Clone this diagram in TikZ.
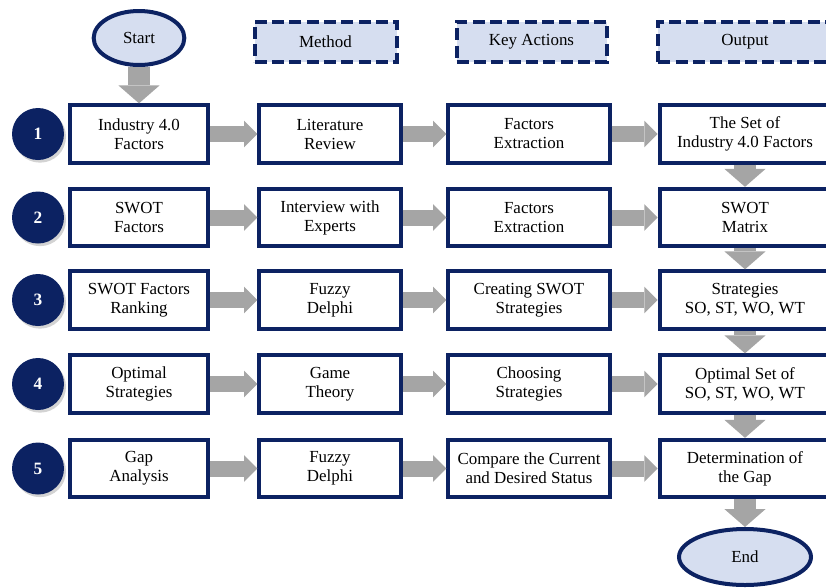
\documentclass[tikz,border=0pt]{standalone}
\usepackage{fontspec}
\setmainfont{Liberation Serif}
\usepackage{tikz}
\usetikzlibrary{shapes.geometric,arrows.meta,shadows}

\definecolor{navy}{RGB}{12,34,98}
\definecolor{paleblue}{RGB}{214,222,240}
\definecolor{flowgray}{RGB}{165,165,165}

\tikzset{
  txt/.style={font=\fontsize{12.7}{14.25}\selectfont, align=center},
  stepbox/.style={txt, draw=navy, line width=3pt, fill=white, minimum height=43pt},
  headbox/.style={txt, draw=navy, line width=3pt, fill=paleblue, dash pattern=on 9pt off 4pt, minimum height=30pt},
  terminal/.style={txt, ellipse, draw=navy, line width=3pt, fill=paleblue},
  num/.style={circle, fill=navy, text=white, minimum size=39pt, inner sep=0pt,
    font=\fontsize{13}{14}\selectfont\bfseries,
    drop shadow={shadow xshift=1.5pt, shadow yshift=-2pt, opacity=0.35}},
  hflow/.style={flowgray, line width=12pt, -{Triangle[length=10pt, width=20pt, line width=0pt]}},
  vflow/.style={flowgray, line width=16.5pt, -{Triangle[length=13.5pt, width=31pt, line width=0pt]}}
}

\begin{document}
\begin{tikzpicture}[x=0.75pt, y=-0.75pt]
        %--- Arguments ----
        \def \cA {139}   % input column
        \def \cB {330}   % method column
        \def \cC {529}   % key actions column
        \def \cD {745}   % output column
        \def \cN {38}    % step numbers
        \def \rA {134}
        \def \rB {217.5}
        \def \rC {300}
        \def \rD {384}
        \def \rE {468.5}
        \path[use as bounding box, clip] (0,0) rectangle (826,587);
        %--- Header ---
        \node [terminal, minimum width=68pt, minimum height=40.5pt] (start) at (\cA,38) {Start};
        \node [headbox, minimum width=106.5pt] (method) at (325.5,41.5) {Method};
        \node [headbox, minimum width=112.5pt] (actions) at (531.5,41.5) {Key Actions};
        \node [headbox, minimum width=130pt] (output) at (\cD,41.5) {Output};
        %--- Step numbers ---
        \node [num] (n1) at (\cN,\rA) {1};
        \node [num] (n2) at (\cN,\rB) {2};
        \node [num] (n3) at (\cN,\rC) {3};
        \node [num] (n4) at (\cN,\rD) {4};
        \node [num] (n5) at (\cN,\rE) {5};
        %--- Boxes ---
        % row 1
        \node [stepbox, minimum width=104pt] (f1) at (\cA,\rA) {Industry 4.0\\Factors};
        \node [stepbox, minimum width=106pt] (m1) at (\cB,\rA) {Literature\\Review};
        \node [stepbox, minimum width=121pt] (a1) at (\cC,\rA) {Factors\\Extraction};
        \node [stepbox, minimum width=128pt] (o1) at (\cD,\rA) {The Set of\\Industry 4.0 Factors};
        % row 2
        \node [stepbox, minimum width=104pt] (f2) at (\cA,\rB) {SWOT\\Factors};
        \node [stepbox, minimum width=106pt] (m2) at (\cB,\rB) {Interview with\\Experts};
        \node [stepbox, minimum width=121pt] (a2) at (\cC,\rB) {Factors\\Extraction};
        \node [stepbox, minimum width=128pt] (o2) at (\cD,\rB) {SWOT\\Matrix};
        % row 3
        \node [stepbox, minimum width=104pt] (f3) at (\cA,\rC) {SWOT Factors\\Ranking};
        \node [stepbox, minimum width=106pt] (m3) at (\cB,\rC) {Fuzzy\\Delphi};
        \node [stepbox, minimum width=121pt] (a3) at (\cC,\rC) {Creating SWOT\\Strategies};
        \node [stepbox, minimum width=128pt] (o3) at (\cD,\rC) {Strategies\\SO, ST, WO, WT};
        % row 4
        \node [stepbox, minimum width=104pt] (f4) at (\cA,\rD) {Optimal\\Strategies};
        \node [stepbox, minimum width=106pt] (m4) at (\cB,\rD) {Game\\Theory};
        \node [stepbox, minimum width=121pt] (a4) at (\cC,\rD) {Choosing\\Strategies};
        \node [stepbox, minimum width=128pt] (o4) at (\cD,\rD) {Optimal Set of\\SO, ST, WO, WT};
        % row 5
        \node [stepbox, minimum width=104pt] (f5) at (\cA,\rE) {Gap\\Analysis};
        \node [stepbox, minimum width=106pt] (m5) at (\cB,\rE) {Fuzzy\\Delphi};
        \node [stepbox, minimum width=121pt] (a5) at (\cC,\rE) {Compare the Current\\and Desired Status};
        \node [stepbox, minimum width=128pt] (o5) at (\cD,\rE) {Determination of\\the Gap};
        \node [terminal, minimum width=99pt, minimum height=42pt] (stop) at (\cD,557) {End};
        %--- Arrows ---
        \draw [hflow] (f1) -- (m1);
        \draw [hflow] (m1) -- (a1);
        \draw [hflow] (a1) -- (o1);
        \draw [hflow] (f2) -- (m2);
        \draw [hflow] (m2) -- (a2);
        \draw [hflow] (a2) -- (o2);
        \draw [hflow] (f3) -- (m3);
        \draw [hflow] (m3) -- (a3);
        \draw [hflow] (a3) -- (o3);
        \draw [hflow] (f4) -- (m4);
        \draw [hflow] (m4) -- (a4);
        \draw [hflow] (a4) -- (o4);
        \draw [hflow] (f5) -- (m5);
        \draw [hflow] (m5) -- (a5);
        \draw [hflow] (a5) -- (o5);
        % output column
        \draw [vflow] (start) -- (f1);
        \draw [vflow] (o1) -- (o2);
        \draw [vflow] (o2) -- (o3);
        \draw [vflow] (o3) -- (o4);
        \draw [vflow] (o4) -- (o5);
        \draw [vflow] (o5) -- (stop);
    \end{tikzpicture}
\end{document}
